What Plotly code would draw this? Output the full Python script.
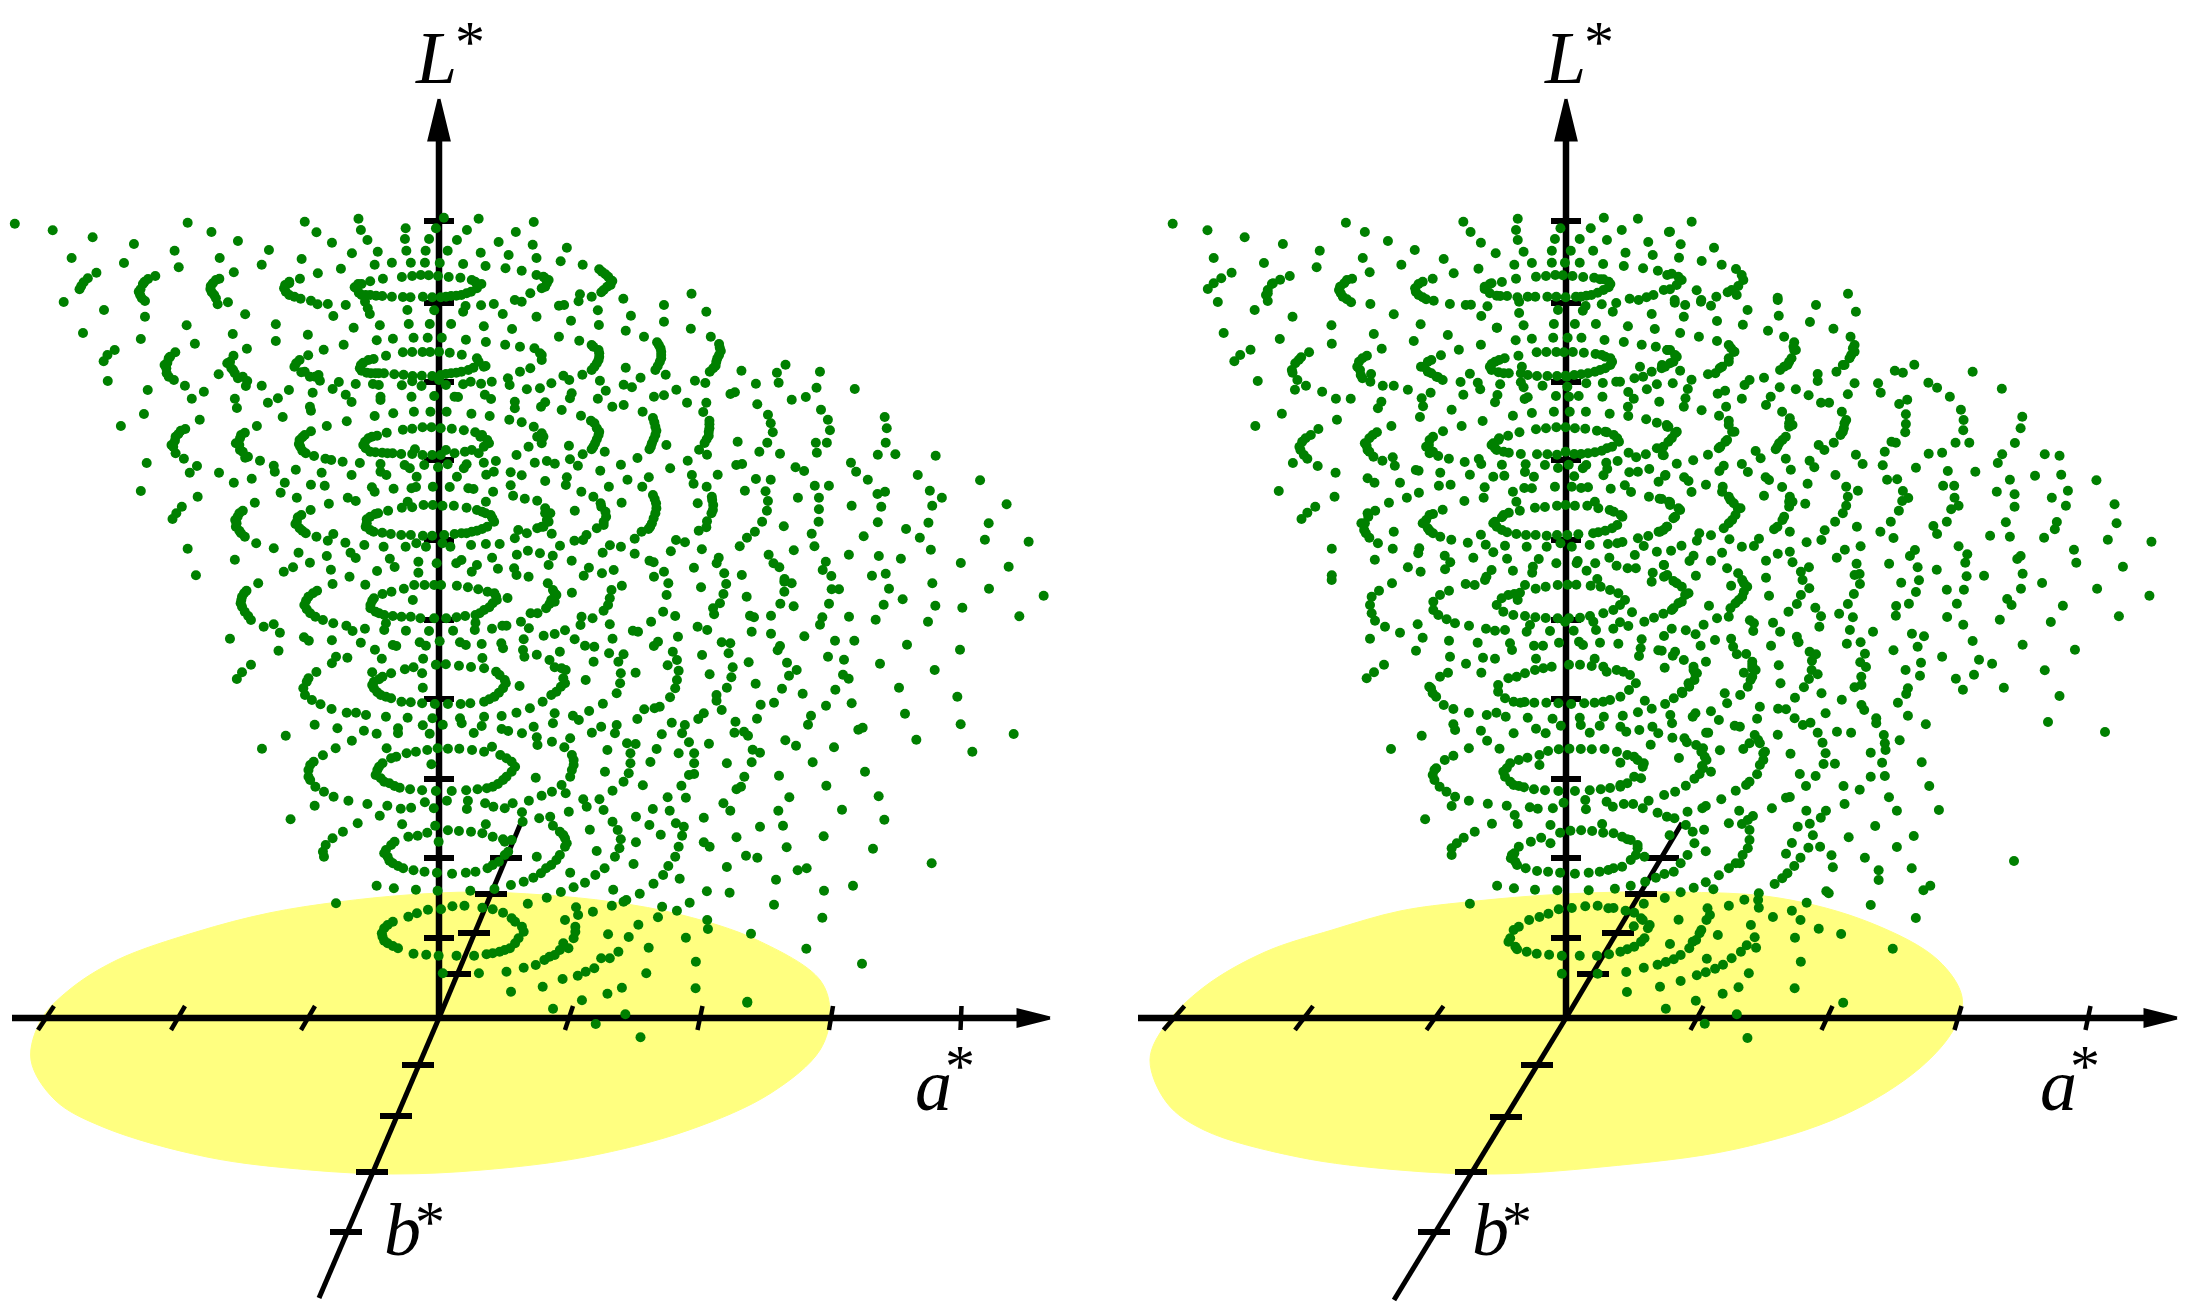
import numpy as np
import plotly.graph_objects as go

left_top_a = [(43,131),(153,151),(269,172),(389,192),(208,234),(360,249),(280,278),(255,295),(243,307),(236,318),(231,328),(185,366),(302,390),(241,459),(451,288),(430,297),(415,312),(408,328),(407,345),(421,363),(421,410),(409,477),
(545,128),(614,156),(691,183),(507,212),(519,262),(638,234),(679,277),(637,296),(618,310),(611,327),(622,345),(632,373),(662,367),(781,210),(760,254),(712,403),(542,436),(676,462),(801,433),(801,483),(566,491),(333,510),(312,525),(301,544),(509,517),(494,530),(486,548),(483,565),(484,580),(505,600),(537,617),(592,635),(557,656),(313,603),(429,630),(418,702),(351,738),
(717,506),(678,527),(668,545),(672,565),(682,580),(691,595),(718,603),(714,618),(635,583),(760,617),(839,630),(807,655),(778,668),(682,656),(688,684),(821,711),(580,719),(538,747),(518,762),(508,782),(503,800),(510,820),(534,836),(572,858),(551,878),(426,849),(409,933),(636,878),(679,908),(731,896),(755,842),(746,738),(711,758),(697,775),(695,795),(705,815),(712,833),(795,857),(798,875),(859,869),(827,908),(815,938),(574,950),(528,980),(512,1000),(501,1017),(545,1106),(682,1139),(569,1186),(740,968),(705,992),(690,1010),(687,1030),(695,1052),(711,1070),(744,1090),(795,1105),(867,1118),(824,1175),(851,1162),(900,1148),(961,1169),(1015,1190)]
left_top_b = [(885,125),(919,157),(964,188),(1022,220),(876,237),(990,266),(923,280),(871,296),(840,305),(825,325),(840,345),(873,356),(903,362),(922,373),(952,372),(1004,375),(968,408),(1027,443),(894,464),(998,494),(940,509),(895,526),(870,540),(855,560),(875,577),(900,590),(925,585),(929,602),(984,606),(966,627),(1033,612),(1004,644),(1021,666),(908,638),(900,680),(903,692),(1007,724),(949,738),(903,754),(878,772),(868,792),(878,812),(912,828),(945,836),(962,840),(995,845),(1045,849),(934,878),(1021,885),(903,914),(943,917),(862,953),(955,971),(1010,953),(1033,963),(902,990),(875,1005),(862,1025),(870,1045),(888,1060),(919,1070),(968,1062),(952,1082),(1003,1088),(1058,1095),(1018,1118),(1033,1134),(949,1128),
(1041,116),(1048,150),(1067,180),(1097,215),(1088,254),(1138,248),(1178,145),(1176,177),(1180,212),(1193,248),(1167,291),(1197,288),(1222,285),(1245,286),(1272,288),(1303,291),(1337,293),(1112,296),(1075,304),(1050,312),(1035,325),(1050,345),(1075,345),(1110,348),(1138,350),(1170,351),(1192,352),(1228,350),(1255,352),(1280,352),(1310,348),(1340,345),(1368,335),(1390,315),(1370,300),(1060,365),(1068,385),(1074,402),(1183,390),(1261,391),(1352,378),(1345,395),(1397,376),(1434,372),(1460,402),(1289,113),(1266,145),(1246,177),(1236,212),(1234,248),(1277,249),(1300,212),(1327,180),(1356,150),(1390,116),(1345,252),(1396,218),(1410,258),(1448,186),(1498,156),(1550,126),(1547,194),(1477,225),(1558,234),(1468,265),(1515,272),(1558,285),(1540,340),(1515,365),(1495,360)]
left_top_c = [(1103,436),(1187,432),(1248,432),(1310,432),(1405,439),(1487,447),(1558,410),(1094,481),(1141,476),(1201,473),(1242,473),(1283,473),(1353,479),(1411,486),(1467,494),(1510,500),(1552,505),(1170,517),(1197,516),(1227,516),(1249,516),(1275,515),(1306,518),(1341,524),(1121,527),(1085,537),(1055,548),(1045,565),(1065,578),(1090,580),(1115,580),(1145,583),(1172,584),(1198,588),(1225,587),(1255,588),(1280,585),(1310,580),(1340,575),(1375,563),(1405,560),(1385,535),
(1083,612),(1100,615),(1105,650),(1105,660),(1167,616),(1197,604),(1224,618),(1195,650),(1261,648),(1295,615),(1275,600),(1320,650),(1330,651),(1345,613),(1367,605),(1397,611),(1428,605),(1408,644),(1426,657),(1530,628),(1568,625),(1495,665),(1495,685),(1480,615),(1475,595),(1510,575),(1540,565),
(1088,708),(1142,700),(1202,695),(1250,695),(1297,695),(1369,701),(1422,708),(1479,719),(1515,727),(1550,740),(1170,749),(1197,746),(1227,742),(1253,742),(1280,745),(1312,746),(1347,751),(1123,758),(1095,767),(1070,775),(1055,795),(1075,815),(1110,818),(1140,820),(1165,822),(1197,822),(1205,808),(1227,825),(1255,825),(1280,825),(1295,810),(1320,820),(1350,815),(1390,820),(1420,790),(1400,765),(1380,757),
(1105,852),(1105,875),(1122,885),(1175,855),(1190,865),(1210,890),(1232,855),(1272,862),(1300,853),(1355,853),(1347,865),(1327,890),(1405,848),(1440,843),(1412,884),(1434,875),(1483,877),(1515,886),(1483,916),(1490,947),(1524,956),(1560,962),(1553,848),(1500,825),(1535,800),(1560,770),
(1080,922),(1088,935),(1143,926),(1195,925),(1208,921),(1257,920),(1306,921),(1360,925),(1375,927),(1432,935),(1411,965),
(1184,965),(1167,983),(1197,982),(1230,975),(1257,975),(1285,977),(1318,977),(1355,983),(1127,992),(1098,1000),(1075,1010),(1065,1030),(1075,1050),(1110,1058),(1135,1062),(1165,1065),(1193,1065),(1228,1067),(1255,1067),(1290,1065),(1320,1062),(1355,1060),(1385,1052),(1415,1040),(1430,1015),(1385,990),(1410,1000),
(1285,1090),(1308,1100),(1209,1090),(1237,1100),(1178,1100),(1114,1100),(1368,1095),(1411,1092),(1451,1092),(1495,1075),(1505,1050),(1530,1060),(1560,1045),(1533,1112),(1501,1124),(1429,1133),(1132,1136),(1146,1161),(1095,1173),(1215,1145),(1215,1178),(1268,1150),(1325,1150),(1340,1140),(1385,1155),(1370,1175),(1446,1166),(1493,1165),(1500,1185),(1535,1190),(1568,1120)]
left_thick_a = [(420,305),(403,335),(412,355),(627,300),(612,318),(615,337),(627,355),(840,310),(828,315),(830,335),(855,350),(1040,312),(1030,322),(1042,338),(1062,345),(1092,347),(1380,305),(1398,312),(1385,325),(1355,340),(1325,347),(1295,350),
(1070,540),(1048,555),(1050,572),(1077,580),(1100,580),(1390,545),(1410,558),(1360,570),(1325,578),(1295,582),
(1080,770),(1060,785),(1062,805),(1090,817),(1125,820),(1395,770),(1415,780),(1405,800),(1370,810),
(1090,1002),(1065,1018),(1062,1040),(1085,1055),(1400,995),(1425,1005),(1435,1025),(1400,1047),(1370,1055),(1340,1060),
(490,535),(478,555),(490,590),(660,550),(677,570),(705,590),(700,765),(685,790),(697,810),(720,830),(885,765),(870,780),(872,800),(888,820),(695,1000),(683,1020),(685,1040),(700,1060),(865,1012),(858,1032),(878,1052),(860,550),(885,575),(915,590),(525,752),(510,770),(498,795)]

left_right = [(78,203),(60,244),(124,254),(172,268),(190,283),(205,300),(195,320),(178,337),(15,295),(20,310),(5,325),(116,343),(112,364),(150,350),(55,377),(70,375),(168,391),(242,356),(90,422),(171,435),(264,407),(360,375),(360,425),(249,452),(302,470),(440,341),(483,395),(438,446),(496,470),(55,470),(114,482),(150,495),(170,510),(172,530),(165,550),(150,570),(340,487),(350,505),(352,525),(348,545),(335,570),(520,492),(525,513),(515,535),(510,557),(493,575),(0,520),(5,540),(249,563),(365,584),(123,584),(68,587),(85,600),(33,610),(174,602),(585,572),(627,611),(713,554),(688,578),(693,608),(813,575),(803,623),(914,627),(450,602),(480,609),(243,614),(267,622),(292,593),(396,629),(191,632),(92,640),(87,655),(168,656),(331,650),(360,646),(427,668),(553,642),(566,637),(483,668),(474,696),(631,673),(731,659),(772,651),(816,689),(836,719),(842,751),(833,788),(801,788),(804,818),(1001,711),(1007,745),(1004,788),(981,824),(1032,823),(1149,827),(210,680),(243,675),(298,695),(63,690),(15,667),(3,680),(119,707),(148,722),(165,745),(170,765),(160,790),(150,808),(328,714),(335,740),(335,765),(325,790),(318,808),(492,722),(492,745),(490,767),(478,789),(462,809),(485,824),(662,704),(670,730),(676,757),(660,788),(637,815),(697,821),(574,785),(84,797),(124,823),(188,815),(367,795),(283,834),(235,854),(87,838),(110,857),(20,843),(43,851),(175,872),(378,865),(429,842),(570,855),(587,852),(742,862),(767,873),(903,848),(918,875),(952,899),(1097,885),(1278,901),(1132,932),(1167,953),(1355,973),(441,885),(446,911),(516,884),(627,897),(670,899),(798,917),(839,917),(316,892),(254,899),(78,892),(75,915),(15,903),(200,920),(297,920),(484,920),(595,932),(655,934),(980,942),(1002,935),(120,935),(155,950),(176,970),(190,995),(185,1025),(165,1045),(328,945),(337,970),(335,1000),(325,1030),(315,1047),(295,1055),(499,950),(503,975),(498,1000),(485,1024),(483,1042),(461,1052),(662,963),(659,992),(645,1025),(624,1055),(601,1073),(580,1099),(749,953),(810,953),(810,988),(809,1025),(789,1061),(797,1099),(905,977),(991,980),(981,1027),(1139,977),(1128,1028),(1303,1030),(1292,1079),(1419,1085),(1063,1047),(1103,1073),(1135,1109),(940,1069),(708,1039),(458,970),(237,968),(101,992),(15,1000),(20,1020),(5,1040),(34,1061),(100,1082),(125,1080),(135,1065),(58,1097),(275,1076),(203,1096),(235,1100),(182,1118),(37,1127),(25,1155),(92,1142),(142,1163),(275,1121),(318,1142),(330,1147),(380,1114),(395,1080),(421,1087),(470,1108),(519,1133),(513,1150),(447,1163),(360,1175),(180,1180),(214,1170),(127,1187),(331,1190),(535,1180),(586,1185),(664,1124),(678,1150),(695,1162),(737,1111),(830,1145),(821,1170),(846,1188),(897,1124),(984,1128),(1048,1136),(1222,1149),(1361,1160),(964,1187),(1004,1181),(710,1197)]
left_thick_b = [(180,275),(198,290),(210,303),(205,315),(185,330),(10,290),(25,300),(15,320),(155,500),(172,520),(170,540),(158,560),(345,495),(352,515),(352,535),(342,558),(522,503),(520,525),(512,545),(503,565),(158,730),(172,755),(165,778),(155,800),(332,727),(338,752),(330,778),(322,800),(492,733),(490,755),(484,778),(178,980),(192,1010),(185,1035),(333,957),(338,985),(330,1015),(320,1040),(500,960),(502,990),(5,760),(10,770),(5,790),(15,985),(30,1000),(25,1025),(10,1040),(5,525)]

left_mid = [(135,32),(122,50),(118,70),(130,95),(148,120),(185,140),(214,133),(232,158),(87,176),(228,212),(148,254),(122,277),(107,297),(169,10),(340,32),(315,50),(303,75),(320,100),(357,120),(387,130),(425,137),(443,153),(479,146),(535,150),(540,130),(598,152),(665,153),(735,152),(798,150),(800,128),(848,146),(878,137),(890,137),(932,125),(960,100),(980,100),(1005,85),(1020,60),(1030,40),(1010,10),(556,35),(530,42),(505,55),(495,75),(510,95),(535,105),(560,108),(585,110),(612,110),(640,115),(680,115),(715,115),(745,112),(770,108),(800,105),(825,90),(850,70),(860,50),(835,35),(808,28),(778,22),(746,17),(700,15),(680,15),(652,15),(622,15),(592,26),(618,60),(893,54),(385,12),(480,14),(1080,38),(1195,30),(1190,55),(1185,75),(1172,92),(1225,17),(1455,22),(1528,12),(1520,42),(1510,70),(1490,85),(1493,103),(1345,95),(1380,108),(1355,45),(1360,10),(1310,125),(1140,115),(1108,110),(1105,135),(1190,133),(1257,152),(1272,155),(1445,140),(1473,150),(1388,170),(1515,187),(1540,190),(1535,220),(1547,262),(1480,283),(1543,292),(1530,323),(1500,345),(1500,362),(1515,390),(1463,400),(1447,417),(1330,185),(1318,198),(1373,215),(1385,240),(1358,256),(1390,272),(1385,300),(1380,325),(1365,352),(1335,380),(1320,385),(1290,388),(1270,417),(1458,225),(1265,278),(1230,223),(1215,245),(1222,280),(1220,310),(1210,340),(1170,371),(1198,176),(1188,220),(1143,245),(1145,200),(1118,197),(1088,178),(1060,151),(1030,162),(998,167),(955,145),(940,178),(938,210),(942,230),(978,224),(1015,240),(1045,215),(1030,262),(1050,265),(1055,295),(1048,320),(1020,345),(995,365),(958,385),(1120,300),(928,318),(919,398),(876,408),(1130,393),(1083,407),(1100,420),(1030,400),(1025,430),
(302,172),(316,182),(383,181),(467,188),(508,209),(528,236),(560,195),(570,198),(638,187),(656,197),(696,184),(755,187),(772,195),(818,192),(875,190),(880,205),(820,234),(648,236),(620,262),(595,268),(645,280),(685,254),(714,253),(752,257),(787,261),(825,265),(860,275),(885,300),(880,325),(855,350),(825,365),(785,370),(757,372),(720,372),(682,372),(645,370),(612,367),(585,365),(555,355),(525,345),(505,325),(505,305),(530,290),(555,280),(500,277),(647,323),(395,230),(383,250),(428,233),(338,276),(315,295),(300,325),(325,360),(350,373),(382,387),(426,398),(453,398),(482,405),(540,410),(603,413),(675,415),(755,415),(760,430),(825,410),(818,438),(795,459),(876,447),(895,453),(935,460),(969,440),(978,472),(980,495),(1022,485),(1075,475),(1058,502),(1080,525),(1085,555),(1075,590),(1050,615),(1062,640),(1022,635),(992,647),(955,662),(908,670),(885,685),(852,680),(828,670),(975,593),(1176,575),(1198,632),(1230,605),(1245,580),(1250,550),(1250,520),(1240,490),(1265,492),(1205,460),(1210,435),(1165,440),(1138,458),(1183,510),(1308,546),(1326,507),(1341,463),(1370,428),(1408,435),(1400,460),(1420,487),(1390,520),(1435,520),(1435,550),(1478,491),(1555,425),(1552,458),(1530,550),(1420,585),(1435,582),(1398,617),(1286,616),(1411,653),(1358,652),(1315,687),(1364,692),(1266,710),(1305,735),(1338,764),(1382,730),(1405,740),(1400,767),(1463,713),(1520,670),(1540,692),(1558,628),(1558,772),(1463,787),(1480,800),(1390,800),(1380,830),(1360,858),(1345,885),(1317,911),(1393,896),(1530,861),(1472,934),(1538,938),(1277,941),(1266,787),(1259,852),(1218,805),(1222,778),(1213,750),(1198,725),(1152,813),(1132,749),(1205,830),(1175,865),(1148,885),(1118,908),(1085,922),(1048,936),(1075,878),(1200,929),(1238,960),(1230,965),(1196,977),(1141,995),(1092,982),(1098,1005),(1090,1040),(1060,1020),(1085,1075),(1055,1090),(1030,1125),(1000,1140),(975,1155),(1185,1063),(1245,1071),(1215,1115),(1190,1135),(1165,1135),(1145,1165),(1120,1175),(1097,1187),(1053,1197),(1273,1034),(1330,1012),(1342,980),(1385,992),(1422,968),(1473,1020),(1475,1047),(1411,1073),(1303,1103),(1440,1145),(1296,1180),
(333,434),(399,445),(476,452),(513,461),(575,445),(575,460),(647,436),(705,434),(667,461),(249,467),(180,506),(441,482),(394,505),(357,526),(330,545),(315,570),(320,600),(335,620),(360,635),(388,650),(431,662),(486,672),(544,677),(583,686),(613,683),(653,667),(717,662),(778,662),(775,687),(679,685),(522,707),(333,677),(263,718),(458,730),(415,755),(385,775),(365,795),(357,815),(360,830),(587,733),(683,737),(720,751),(752,753),(787,755),(830,733),(820,760),(850,770),(885,785),(905,780),(885,825),(868,845),(835,865),(800,875),(772,878),(732,881),(688,878),(652,875),(620,871),(590,865),(560,850),(545,830),(540,810),(565,785),(605,770),(632,767),(660,758),(693,785),(978,830),(935,697),(937,725),(985,715),(1017,710),(1025,737),(1045,755),(1060,775),(1060,800),(1045,825),(1020,855),(990,880),(968,893),(940,905),(903,915),(1071,695),(1113,658),(1123,680),(1160,658),(1172,690),
(542,505),(600,520),(627,515),(660,510),(690,505),(720,506),(753,506),(790,510),(825,515),(848,500),(872,525),(905,545),(905,575),(880,600),(850,620),(833,625),(806,628),(773,631),(731,633),(685,633),(645,631),(610,628),(580,623),(550,610),(525,595),(515,570),(530,550),(555,535),(570,530),(672,553),
(513,917),(563,925),(627,929),(690,932),(785,932),(855,927),(395,970),(952,971),(1007,953),(700,988),(733,979),(768,977),(820,983),(850,988),(880,998),(905,1015),(935,1040),(925,1075),(900,1105),(870,1115),(832,1123),(796,1127),(745,1127),(693,1127),(657,1124),(620,1121),(575,1105),(545,1090),(530,1070),(535,1045),(560,1025),(605,1010),(630,1000),(662,989),(705,1180),(810,1180),(890,1175),(940,1163)]
left_thick_c = [(128,40),(120,60),(122,80),(140,108),(328,40),(308,62),(310,88),(335,110),(500,62),(495,85),(520,100),(855,40),(862,60),(840,82),(812,100),(1025,30),(1035,45),(1030,65),(1015,72),
(520,298),(500,315),(515,337),(540,350),(870,285),(888,310),(868,338),(840,358),(310,305),(305,345),(1062,270),(1060,310),(1035,335),
(520,560),(510,585),(535,605),(565,618),(890,535),(915,560),(890,590),(865,612),(320,555),(315,590),(1085,540),(1080,570),
(555,795),(535,820),(550,842),(575,858),(880,778),(895,815),(850,855),(1055,765),(1065,790),(1035,840),(1005,865),
(545,1035),(528,1060),(535,1082),(560,1098),(915,1025),(940,1055),(915,1090),(885,1110),(850,1120),(1090,1055),(1070,1105),(1045,1110),(1015,1130)]

left_far = [(133,5),(155,10),(133,35),(20,50),(275,28),(297,28),(447,26),(577,10),(747,26),(911,47),(121,71),(161,79),(267,71),(431,74),(488,58),(586,77),(667,83),(838,109),(30,107),(42,112),(93,107),(247,112),(240,134),(327,110),(407,119),(564,125),(35,155),(93,161),(193,169),(285,182),(343,182),(501,194),(660,209),(120,198),(113,211),(26,247),(141,248),(264,230),(312,239),(420,251),(584,270),(170,270),(147,287),(309,284),(326,296),(47,311),(126,326),(188,341),(286,329),(477,323),(652,350),(62,374),(102,368),(258,377),(335,370),(495,401),(662,433),(51,416),(213,407),(204,434),(368,443),(355,449),(821,462),(12,455),(24,467),(136,481),(168,497),(282,502),(529,479),(697,515),(38,509),(60,518),(35,547),(218,547),(375,575),(13,590),(117,587),(259,617),(3,620),(148,652),(416,649),(115,692),(306,689),(433,719),(60,740),(129,737),(251,769),(140,802),(399,806),(18,827),(52,833),(575,850),(173,871),(200,865),(108,899),(339,917),(252,932),(102,974),(247,1013),(33,1061),(199,1106),(366,1151),(22,1265)]

left_low = [(742,275),(788,260),(803,326),(845,301),(882,281),(903,263),(1010,265),(1085,308),(908,343),(865,372),(930,412)]

right_top = [(124,131),(225,151),(333,172),(444,192),(243,234),(389,249),(295,278),(265,295),(243,310),(226,327),(255,366),(362,390),(272,459),(464,288),(436,299),(412,312),(400,330),(395,345),(400,363),(472,410),(435,477),(551,212),(542,262),(627,128),(682,156),(749,183),(827,210),(676,234),(788,254),(696,277),(645,296),(622,310),(607,330),(618,350),(642,367),(698,372),(766,403),(585,436),(586,491),(708,462),(844,433),(824,483),(911,237),(940,280),(1012,266),(879,296),(850,305),(828,325),(838,345),(860,358),(882,362),(929,372),(975,375),(990,374),(1038,379),(1020,408),(1066,443),(923,465),(1019,494),(955,509),(903,526),(875,540),(855,562),(875,580),(895,592),(908,600),(987,581),(960,606),(1010,608),(1017,628),(968,644),(873,638),(934,689),(1024,723),(963,738),(909,754),(880,770),(868,795),(880,815),(895,828),(926,836),(972,846),(1013,837),(1020,852),(901,878),(987,884),(1055,890),(1087,887),(897,917),(931,914),(1030,922),(1027,953),(839,938),(804,953),(752,968),(971,963),(908,989),(880,1002),(860,1020),(865,1045),(880,1060),(901,1070),(933,1079),(1019,1064),(981,1088),(1033,1094),(1055,1117),(997,1133),(914,1127),(930,1147),(915,1168),(807,1162),(844,1175),(766,1055),(763,1106),(840,1105),(837,1120),(711,1139),(586,1106),(586,1186),
(350,509),(320,525),(303,544),(520,517),(497,532),(480,550),(472,578),(486,600),(479,629),(511,617),(558,635),(598,656),(641,656),(371,603),(441,701),(364,738),(601,719),(547,747),(525,765),(500,785),(495,810),(515,836),(473,849),(545,858),(597,878),(432,933),(594,950),(538,980),(515,998),(498,1017),
(731,506),(688,527),(665,545),(668,570),(675,595),(700,582),(698,605),(734,617),(766,617),(807,629),(847,655),(851,679),(842,711),(730,665),(720,685),(759,738),(717,757),(695,775),(687,797),(695,815),(707,830),(733,842),(763,832),(769,857),(830,870),(838,872),(690,895),(710,908),(784,908),(712,992),(692,1010),(682,1030),(680,1050),(695,1073),(720,1090),
(968,125),(989,156),(1019,188),(1062,220),(1126,116),(1121,150),(1126,180),(1143,215),(1116,254),(1167,249),(1121,296),(1080,306),(1050,310),(1030,327),(1065,347),(1095,348),(1125,352),(1155,350),(1177,350),(1130,365),(1130,399),(1143,436),(1120,481),(1167,476),(1065,443),
(1179,290),(1208,288),(1235,285),(1257,286),(1285,288),(1316,291),(1348,293),(1375,298),(1395,312),(1375,330),(1340,345),(1310,350),(1265,352),(1238,350),(1212,350),(1370,373),(1323,378),(1315,392),(1243,390),(1250,145),(1234,177),(1225,212),(1225,248),(1263,248),(1280,212),(1306,177),(1338,145),(1376,113),(1475,116),(1428,150),(1385,180),(1345,212),(1306,248),(1374,252),(1439,218),(1434,258),(1505,186),(1565,156),(1518,225),(1490,265),(1533,272),(1560,285),(1550,330),(1520,345),(1500,352),(1477,360),(1451,356),(1412,369),(1402,395),(1515,402),(1524,447),(1446,439),(1353,432),(1292,432),(1231,432),(1229,473),(1271,473),(1311,473),(1378,480),(1434,486),(1486,494),(1527,500),(1560,510),
(1181,517),(1209,516),(1238,516),(1260,517),(1286,516),(1318,518),(1352,522),(1380,530),(1400,545),(1380,565),(1350,575),(1310,583),(1265,587),(1240,588),(1212,588),(1182,588),(1155,585),(1135,580),(1100,580),(1070,577),(1045,560),(1060,545),(1088,535),(1128,527),(1138,560),(1135,607),(1143,622),(1075,613),(1067,645),(1060,667),(1198,617),(1237,648),(1275,650),(1303,648),(1270,620),(1268,590),(1325,610),(1373,609),(1412,605),(1423,605),(1372,650),(1447,636),(1463,656),(1446,680),(1447,708),(1501,628),(1530,613),(1537,665),(1465,595),(1490,590),(1481,560),(1515,575),(1545,555),
(1155,652),(1146,657),(1112,707),(1167,699),(1231,695),(1277,695),(1324,695),(1393,701),(1499,718),(1530,728),(1560,740),
(1131,757),(1179,748),(1208,745),(1238,742),(1265,742),(1292,745),(1322,746),(1356,752),(1385,757),(1415,775),(1400,800),(1370,812),(1330,820),(1290,822),(1265,815),(1240,824),(1212,823),(1182,823),(1135,822),(1100,818),(1065,810),(1050,795),(1072,775),(1098,767),
(1448,818),(1470,832),(1498,823),(1530,805),(1550,826),(1416,843),(1383,848),(1386,867),(1375,886),(1325,855),(1315,865),(1274,854),(1243,864),(1205,855),(1149,853),(1147,876),(1173,890),(1080,854),(1290,889),(1234,920),(1283,920),(1310,924),(1330,922),(1145,924),(1167,925),(1112,935),(1122,965),(1132,992),(1396,926),(1437,916),(1455,936),(1450,877),(1475,875),(1508,867),(1535,905),(1555,885),(1507,950),(1538,956),(1565,965),
(1176,983),(1205,981),(1240,977),(1265,975),(1292,977),(1328,977),(1350,965),(1360,985),(1393,990),(1425,1005),(1415,1035),(1380,1052),(1345,1060),(1302,1063),(1270,1065),(1240,1065),(1210,1067),(1178,1065),(1150,1065),(1122,1062),(1095,1057),(1065,1040),(1060,1025),(1080,1012),(1100,998),
(1250,1090),(1283,1100),(1210,1100),(1152,1100),(1089,1097),(1335,1095),(1388,1092),(1415,1090),(1430,1086),(1475,1075),(1505,1068),(1535,1055),(1560,1040),(1492,1098),(1530,1115),(1466,1125),(1392,1133),(1095,1136),(1300,1143),(1297,1150),(1238,1150),(1187,1137),(1170,1160),(1168,1178),(1112,1172),(1050,1170),(1035,1190),(1326,1172),(1351,1150),(1413,1157),(1445,1165),(1469,1165),(1518,1178),(1550,1155),(1560,1185),(1357,1197)]
right_thick_a = [(415,310),(400,340),(630,300),(610,320),(612,340),(630,358),(838,312),(830,335),(850,352),(1045,312),(1030,320),(1045,340),(1075,348),(1365,298),(1390,305),(1390,322),(1358,338),(1325,347),(1295,350),
(1072,540),(1050,552),(1050,570),(1085,580),(1370,525),(1395,535),(1395,555),(1365,570),(1330,580),(1290,585),
(1070,780),(1055,790),(1060,805),(1085,815),(1380,755),(1405,765),(1420,785),(1385,805),(1350,817),(1310,822),
(1085,1005),(1055,1030),(1080,1050),(1405,995),(1430,1010),(1400,1045),(1360,1057),
(490,540),(470,570),(675,535),(660,560),(670,585),(865,545),(845,560),(865,575),(890,590),(510,775),(492,800),(505,825),(705,765),(682,790),(690,810),(870,780),(860,800),(870,820),(690,1000),(672,1030),(685,1060),(870,1005),(850,1030),(870,1052)]

right_corner = [(95,125),(30,155),(62,193),(162,203),(57,233),(125,243),(185,254),(228,267),(245,285),(250,300),(235,318),(215,330),(35,281),(55,290),(65,300),(50,315),(30,328),(110,331),(203,337),(169,350),(230,345),(353,353),(564,341),(44,360),(124,360)]

right_side = [(44,8),(75,15),(122,5),(152,17),(261,30),(351,0),(465,15),(584,35),(71,50),(354,47),(170,63),(247,74),(447,66),(517,86),(60,99),(116,110),(170,123),(322,92),(370,110),(568,110),(400,127),(205,135),(220,155),(22,150),(45,165),(30,190),(5,205),(400,150),(392,175),(380,195),(358,210),(580,135),(580,155),(565,175),(550,195),(526,215),(205,175),(185,200),(165,220),(143,223),(60,212),(758,194),(700,212),(724,218),(932,215),(1019,266),(94,239),(83,267),(38,250),(267,240),(252,255),(310,233),(357,262),(405,268),(470,222),(470,243),(580,250),(560,283),(443,286),(650,250),(658,278),(800,248),(826,263),(864,290),(194,272),(172,281),(330,290),(316,315),(244,296),(480,308),(504,308),(737,299),(713,312),(76,295),(71,320),(124,331),(197,320),(897,329),(905,360),(904,391),(1080,350),(1075,385),(364,335),(542,335),(733,343),(733,372),(731,397),(176,347),(205,362),(215,395),(200,420),(180,440),(387,355),(385,380),(375,410),(355,430),(345,448),(555,360),(548,385),(538,405),(518,428),(473,435),(490,450),(25,380),(45,400),(25,425),(8,465),(690,425),(703,428),(881,428),(922,428),(1058,429),(670,455),(285,453),(300,475),(143,464),(99,481),(50,491),(375,476),(584,464),(604,492),(801,461),(841,458),(1020,463),(1007,489),(1147,463),(1191,467),(446,482),(460,502),(664,496),(763,503),(244,492),(262,516),(390,509),(190,497),(177,513),(15,527),(523,525),(858,513),(940,515),(1118,527),(1196,524),(1301,541),(72,532),(85,543),(315,532),(325,540),(677,539),(707,538),(1043,539),(440,551),(137,554),(94,576),(364,561),(555,560),(590,572),(844,557),(877,557),(187,560),(185,575),(724,573),(740,594),(722,603),(1004,575),(1057,583),(1216,572),(1355,613),(1168,593),(878,593),(890,617),(868,628),(1210,617),(5,597),(30,607),(55,625),(40,655),(20,680),(0,695),(205,590),(220,610),(232,625),(215,660),(190,685),(310,587),(433,611),(387,590),(385,620),(370,650),(350,680),(340,688),(560,590),(555,617),(545,640),(712,632),(1057,620),(522,665),(688,665),(855,665),(587,680),(815,678),(826,702),(1031,667),(1183,666),(1177,688),(1361,670),(491,691),(657,695),(387,695),(984,707),(1043,710),(1145,713),(1335,719),(1465,725),(696,714),
(117,700),(110,722),(152,706),(207,718),(244,740),(280,738),(295,716),(437,727),(481,720),(64,737),(33,752),(598,739),(351,761),(387,755),(316,782),(395,787),(185,758),(100,767),(88,783),(12,795),(152,782),(551,749),(527,773),(586,791),(683,791),(890,739),(760,750),(745,768),(916,763),(910,788),(1075,768),(1065,777),(1234,749),(1241,788),(1380,800),(768,802),(825,809),(444,802),(420,815),(425,840),(445,865),(420,885),(408,912),(200,805),(233,820),(250,850),(250,875),(235,900),(210,925),(205,950),(12,830),(107,827),(316,833),(40,843),(65,860),(75,885),(55,910),(35,930),(580,825),(595,822),(596,852),(578,882),(560,912),(772,841),(719,848),(914,829),(966,827),(1081,821),(1139,849),(212,857),(855,869),(906,869),(1076,866),(1303,866),(763,876),(325,887),(1459,887),(146,917),(742,911),(885,911),(1035,897),(1048,915),(1201,917),(704,918),(463,923),(383,935),(534,941),(10,941),(480,949),(703,947),(575,952),(1368,949),(856,951),(170,955),(268,961),(280,970),(278,993),(337,968),(130,974),(1013,959),(1165,966),(475,980),(904,974),(35,986),(77,991),(106,1003),(358,995),(566,990),(635,995),(751,1001),(787,1009),(12,1008),(164,1020),(212,1016),(408,1010),(413,1027),(218,1040),(932,1023),(1081,1034),(331,1037),(121,1037),(557,1031),(598,1027),(768,1040),(1237,1049),(696,1051),(446,1055),(465,1063),(611,1061),(45,1055),(38,1067),(5,1052),(229,1063),(257,1062),(71,1080),(137,1085),(275,1085),(453,1082),(841,1070),(951,1079),(990,1091),(778,1088),(597,1087),(614,1101),(354,1096),(14,1103),(100,1100),(105,1120),(275,1105),(452,1110),(470,1123),(250,1118),(732,1110),(1147,1111),(600,1130),(444,1137),(775,1127),(936,1124),(882,1136),(275,1130),(1025,1163),(1191,1188),(903,1169)]
right_thick_b = [(30,150),(50,170),(40,185),(15,200),(212,145),(222,155),(205,185),(178,205),(398,140),(405,150),(385,185),(370,200),(575,145),(570,165),(545,195),(20,375),(50,395),(35,415),(10,440),(205,375),(222,395),(195,425),(175,445),(385,370),(395,375),(365,420),(350,440),(550,370),(545,395),(30,615),(60,630),(45,650),(10,690),(210,600),(240,625),(225,645),(205,670),(385,605),(395,605),(365,660),(50,850),(85,880),(65,905),(40,925),(245,840),(260,860),(245,890),(225,910),(100,1110),(110,1120),(85,1150),(65,1175),(275,1095),(285,1110),(270,1140)]

right_low = [(90,25),(105,50),(127,75),(155,87),(200,98),(252,105),(280,98),(307,110),(371,113),(443,116),(467,137),(395,146),(423,160),(330,160),(235,152),(253,182),(155,133),(160,150),(63,167),(289,206),(200,205),(522,113),(525,135),(592,110),(580,137),(551,158),(647,107),(640,140),(657,155),(695,150),(691,97),(711,62),(731,86),(770,72),(795,55),(785,105),(790,130),(733,140),(750,160),(791,173),(826,175),(833,187),(889,158),(895,158),(850,110),(858,100),(903,94),(926,120),(972,137),(987,140),(1037,116),(1045,80),(1098,86),(1121,88),(1146,115),(1170,135),(1192,128),(1213,158),(1236,100),(1147,53),(1173,22),(1224,40),(1105,10),(943,40),(950,70),(988,45),(1010,20),(820,40),(840,20),(855,0),(1283,59),(1340,75),(1348,90),(1320,22),(1340,15),(1475,25),(1470,42),(1446,68),(1475,107),(1383,115),(1383,130),(1527,133),(1405,165),(1408,190),(1410,210),(1451,181),(1269,155),(1310,158),(1227,188),(1236,220),(1230,252),(1263,251),(1367,218),(1400,248),(1515,247),(1097,164),(1134,221),(1161,282),(1207,288),(1179,318),(1367,290),(1408,288),(1288,318),(1335,329),(1537,318),(1420,352),(1121,353),(1132,351),(1291,372),(1080,385),(1180,392),(1237,392),(1222,413),(1443,392),(1565,390),(1190,431),(1155,440),(1380,438),(1303,472),(1492,468),(1199,466),(1138,489),(1186,503),(1220,500),(1443,501),(1121,521),(1253,526),(1163,533),(1350,533),(1145,558),(1257,562),(1486,565),(1390,571),(1390,600),(1125,580),(1110,595),(1088,612),(1238,634),(1245,640),(1540,617),(1520,631),(1367,675),(1181,668),(1498,714),(1431,806),(1281,762),(1216,746),(1163,720),(1138,692),(1083,711),(1147,773),(1164,845),(1146,925),(1287,968),(1042,640),(1040,660),(1042,683),(1000,659),(955,677),(1019,735),(1030,772),(1034,803),(1007,796),(990,815),(963,835),(938,854),(915,866),(888,877),(862,886),(1013,880),(983,922),(937,941),(859,962),(978,1003),(885,1031),(1009,1074),(772,986),(815,903),(755,920),(659,936),(657,876),(708,863),(748,854),(772,846),(795,838),(815,825),(840,805),(860,780),(875,750),(890,720),(900,705),(893,685),(809,719),(923,765),(784,792),(891,836),
(203,671),(282,617),(331,625),(392,629),(457,631),(548,631),(624,626),(670,617),(712,605),(743,593),(768,582),(795,575),(815,550),(835,525),(855,490),(850,455),(830,435),(783,466),(883,449),(888,514),(710,530),(955,565),(987,550),(926,586),(888,607),(853,623),(815,637),(769,654),(910,628),(708,671),
(150,525),(150,505),(165,490),(185,473),(217,455),(267,431),(333,405),(342,432),(73,418),(150,378),(160,350),(200,362),(255,371),(310,377),(377,382),(400,386),(444,385),(475,368),(538,360),(540,388),(600,365),(618,380),(650,372),(677,372),(705,385),(722,362),(748,398),(775,410),(797,415),(835,395),(878,385),(888,378),(933,358),(975,332),(1005,315),(1015,305),(1037,283),(767,345),(799,335),(830,317),(855,296),(870,282),(903,275),(877,258),(885,230),(880,205),(860,195),(929,211),(810,234),(728,194),(997,207),(1015,190),(1030,165),(1045,190),(1055,220),(1045,255),(955,430),(985,392),(993,432),(1010,420),(1025,408),(1015,450),(1015,480),(1010,505),(995,525),(975,550),
(437,435),(465,458),(495,452),(526,451),(558,453),(587,432),(590,458),(620,460),(645,470),(670,480),(690,505),(670,540),(645,560),(605,570),(580,575),(548,578),(508,581),(465,578),(430,575),(398,573),(365,565),(335,545),(325,525),(345,500),(380,485),(410,473),(437,490),
(405,225),(405,255),(430,213),(461,208),(492,206),(525,207),(557,208),(594,207),(630,215),(660,225),(690,240),(705,260),(700,295),(660,310),(640,320),(610,324),(583,328),(551,331),(508,333),(460,333),(421,331),(389,328),(360,322),(330,315),(305,290),(310,265),(345,240),(370,233),(640,248),
(130,240),(105,265),(95,285),(115,320),(135,335),(155,227),
(461,688),(499,684),(538,679),(574,677),(605,685),(620,684),(655,692),(680,698),(705,720),(720,745),(710,775),(680,800),(640,815),(607,823),(572,827),(522,827),(470,827),(433,824),(397,821),(368,815),(335,800),(320,775),(345,740),(375,720),(405,711),(431,701),(679,739),(470,881),(574,881)]
right_thick_c = [(285,15),(285,35),(305,55),(330,65),(350,68),(362,66),(390,68),(425,68),(460,70),(497,72),(535,70),(565,68),(590,65),(610,60),(640,50),(665,30),(685,10),(95,40),(85,20),(100,270),(100,300),(320,250),(300,275),(320,305),(345,318),(680,230),(708,250),(680,290),(640,315),(332,520),(322,535),(340,555),(660,478),(690,495),(685,525),(620,565),(330,750),(315,785),(340,808),(700,715),(725,735),(700,785),(660,808),(870,760),(850,785),(1040,180),(1060,215),(1055,240),(875,215),(890,240),(880,265)]

right_band = [(366,10),(185,0),(327,32),(305,50),(300,75),(305,100),(315,122),(345,140),(390,158),(300,176),(443,133),(458,173),(537,182),(438,212),(342,254),(312,277),(290,295),(537,32),(510,45),(490,65),(490,90),(505,105),(530,118),(555,130),(597,137),(648,146),(675,152),(705,150),(623,188),(540,230),(588,251),(639,233),(675,236),(634,278),(534,278),(510,290),(587,12),(614,15),(645,0),(765,15),(750,38),(733,42),(743,60),(797,26),(827,20),(863,15),(893,14),(919,14),(962,17),(992,20),(1020,30),(1045,40),(1065,60),(1050,75),(1030,90),(1000,100),(960,108),(930,113),(897,115),(863,115),(827,114),(796,112),(765,108),(730,105),(700,95),(680,75),(695,55),(715,45),(885,125),(780,135),(770,155),(840,153),(911,152),(978,150),(970,125),(1030,146),(1050,127),(1075,138),(1086,97),(1123,125),(1152,113),(1145,5),(720,190),(726,210),(792,197),(819,197),(867,188),(927,185),(939,195),(990,188),(1045,191),(1115,178),(1112,205),(1107,228),(1165,211),(798,236),(974,236),(965,258),(897,254),(930,254),(1000,260),(1010,275),(1040,270),(1060,275),(1080,285),(845,260),(820,265),(795,270),(765,280),(740,290),(715,295)]

# these few sit outside the crops
right_extra = [(1391,749),(2105,732),(2048,722),(2014,861)]

# yellow discs, outline
disc_left = [(196,932),(269,913),(338,902),(407,895),(475,892),(544,895),(613,902),(682,915),(757,940),(820,980),(830,1013),(820,1050),(771,1093),(689,1130),(585,1157),(482,1170),(393,1174),(310,1170),(207,1157),(103,1127),(55,1100),(31,1060),(41,1020),(69,990),(117,960)]
disc_right = [(1265,952),(1332,930),(1400,911),(1467,902),(1565,894),(1675,892),(1779,898),(1871,923),(1938,960),(1962,997),(1955,1027),(1920,1068),(1844,1115),(1736,1149),(1601,1167),(1494,1174),(1399,1170),(1298,1157),(1204,1130),(1167,1103),(1150,1060),(1164,1027),(1204,987)]

# axes: origin, ends and tick positions
l_ticks = [221,303,382,460,540,620,699,779,858,938]
left_a_ticks = [46,178,308,569,700,831,961]
left_a_slant = [16,14,14,8,5,4,1]
right_a_ticks = [1174,1304,1435,1697,1827,1958,2088]
right_a_slant = [21,18,17,13,11,7,5]
left_b_ticks = [(506,858),(491,894),(474,933),(455,974),(418,1065),(396,1116),(372,1172),(346,1232)]
right_b_ticks = [(1663,858),(1641,894),(1618,933),(1593,974),(1537,1065),(1506,1117),(1471,1172),(1434,1232)]
left_origin = (439,1018)
right_origin = (1566,1018)
left_b_ends = [(520,825),(319,1298)]
right_b_ends = [(1682,823),(1394,1300)]
left_a_ends = (12,1020)
right_a_ends = (1138,2147)

GREEN = '#008000'
YELLOW = '#FFFF80'


def crop(pts, x0, y0, sx, sy):
    # crop readings to picture position
    a = np.array(pts, dtype=float)
    return list(x0 + a[:, 0] / sx), list(y0 + a[:, 1] / sy)


def segs(pairs):
    xs, ys = [], []
    for (x1, y1), (x2, y2) in pairs:
        xs += [x1, x2, None]
        ys += [y1, y2, None]
    return xs, ys


left_dots = [crop(left_top_a + left_top_b + left_top_c + left_thick_a, 0, 180, 2.904, 3),
             crop(left_right + left_thick_b, 540, 180, 2.904, 3),
             crop(left_mid + left_thick_c, 200, 580, 2.904, 3), crop(left_far, 740, 580, 3, 3),
             crop(left_low, 0, 900, 1.452, 3)]
right_dots = [crop(right_top + right_thick_a, 1130, 180, 2.904, 3), crop(right_corner, 1660, 180, 3, 3),
              crop(right_side + right_thick_b, 1660, 300, 2.981, 3), crop(right_low + right_thick_c, 1400, 680, 2.904, 3),
              crop(right_band, 1270, 580, 3, 3), crop(right_extra, 0, 0, 1, 1)]
dots_x = sum([d[0] for d in left_dots + right_dots], [])
dots_y = sum([d[1] for d in left_dots + right_dots], [])

fig = go.Figure()

for disc in [disc_left, disc_right]:
    fig.add_trace(go.Scatter(x=[p[0] for p in disc] + [disc[0][0]], y=[p[1] for p in disc] + [disc[0][1]],
                             mode='lines', fill='toself', fillcolor=YELLOW, line=dict(color=YELLOW, width=1, shape='spline')))

# thick axes
thick = []
for origin, a_end in [(left_origin, left_a_ends), (right_origin, right_a_ends)]:
    thick.append(((origin[0], origin[1]), (origin[0], 135)))
    thick.append(((a_end[0], origin[1]), (a_end[1], origin[1])))
xs, ys = segs(thick)
fig.add_trace(go.Scatter(x=xs, y=ys, mode='lines', line=dict(color='black', width=6.5)))

# b axes
thin = []
for origin, ends in [(left_origin, left_b_ends), (right_origin, right_b_ends)]:
    thin.append((origin, ends[0]))
    thin.append((origin, ends[1]))
xs, ys = segs(thin)
fig.add_trace(go.Scatter(x=xs, y=ys, mode='lines', line=dict(color='black', width=5)))

# ticks
ticks = []
for origin in [left_origin, right_origin]:
    for y in l_ticks:
        ticks.append(((origin[0] - 15, y), (origin[0] + 15, y)))
for b in left_b_ticks + right_b_ticks:
    ticks.append(((b[0] - 16, b[1]), (b[0] + 16, b[1])))
xs, ys = segs(ticks)
fig.add_trace(go.Scatter(x=xs, y=ys, mode='lines', line=dict(color='black', width=6)))

a_tick_lines = []
for origin, t_x, t_s in [(left_origin, left_a_ticks, left_a_slant), (right_origin, right_a_ticks, right_a_slant)]:
    for x, s in zip(t_x, t_s):
        a_tick_lines.append(((x - s / 2, origin[1] + 12), (x + s / 2, origin[1] - 12)))
xs, ys = segs(a_tick_lines)
fig.add_trace(go.Scatter(x=xs, y=ys, mode='lines', line=dict(color='black', width=4.5)))

# arrow heads
for origin, a_end in [(left_origin, left_a_ends), (right_origin, right_a_ends)]:
    fig.add_trace(go.Scatter(x=[origin[0], origin[0] - 10, origin[0] + 10, origin[0]], y=[99, 140, 140, 99],
                             mode='lines', fill='toself', fillcolor='black', line=dict(color='black', width=3)))
    fig.add_trace(go.Scatter(x=[a_end[1] + 30, a_end[1] - 2, a_end[1] - 2, a_end[1] + 30],
                             y=[origin[1], origin[1] - 8, origin[1] + 8, origin[1]],
                             mode='lines', fill='toself', fillcolor='black', line=dict(color='black', width=3)))

fig.add_trace(go.Scatter(x=dots_x, y=dots_y, mode='markers', marker=dict(color=GREEN, size=10, line=dict(width=0))))

# labels
labels = [('L', 436, 58), ('L', 1565, 58), ('a', 933, 1085), ('a', 2058, 1085), ('b', 402, 1230), ('b', 1490, 1230)]
stars = [(470, 42), (1599, 42), (960, 1066), (2085, 1066), (430, 1222), (1517, 1222)]
for t, x, y in labels:
    fig.add_annotation(x=x, y=y, text='<i>%s</i>' % t, showarrow=False,
                       font=dict(family='Liberation Serif', size=74, color='black'))
for x, y in stars:
    fig.add_annotation(x=x, y=y, text='*', showarrow=False,
                       font=dict(family='Liberation Serif', size=60, color='black'))

fig.update_layout(width=2186, height=1310, margin=dict(l=0, r=0, t=0, b=0), showlegend=False,
                  plot_bgcolor='white', paper_bgcolor='white',
                  xaxis=dict(range=[0, 2186], visible=False),
                  yaxis=dict(range=[1310, 0], visible=False))

fig.write_html("out.html", config={'displayModeBar': False}, post_script="document.body.style.margin='0';")
